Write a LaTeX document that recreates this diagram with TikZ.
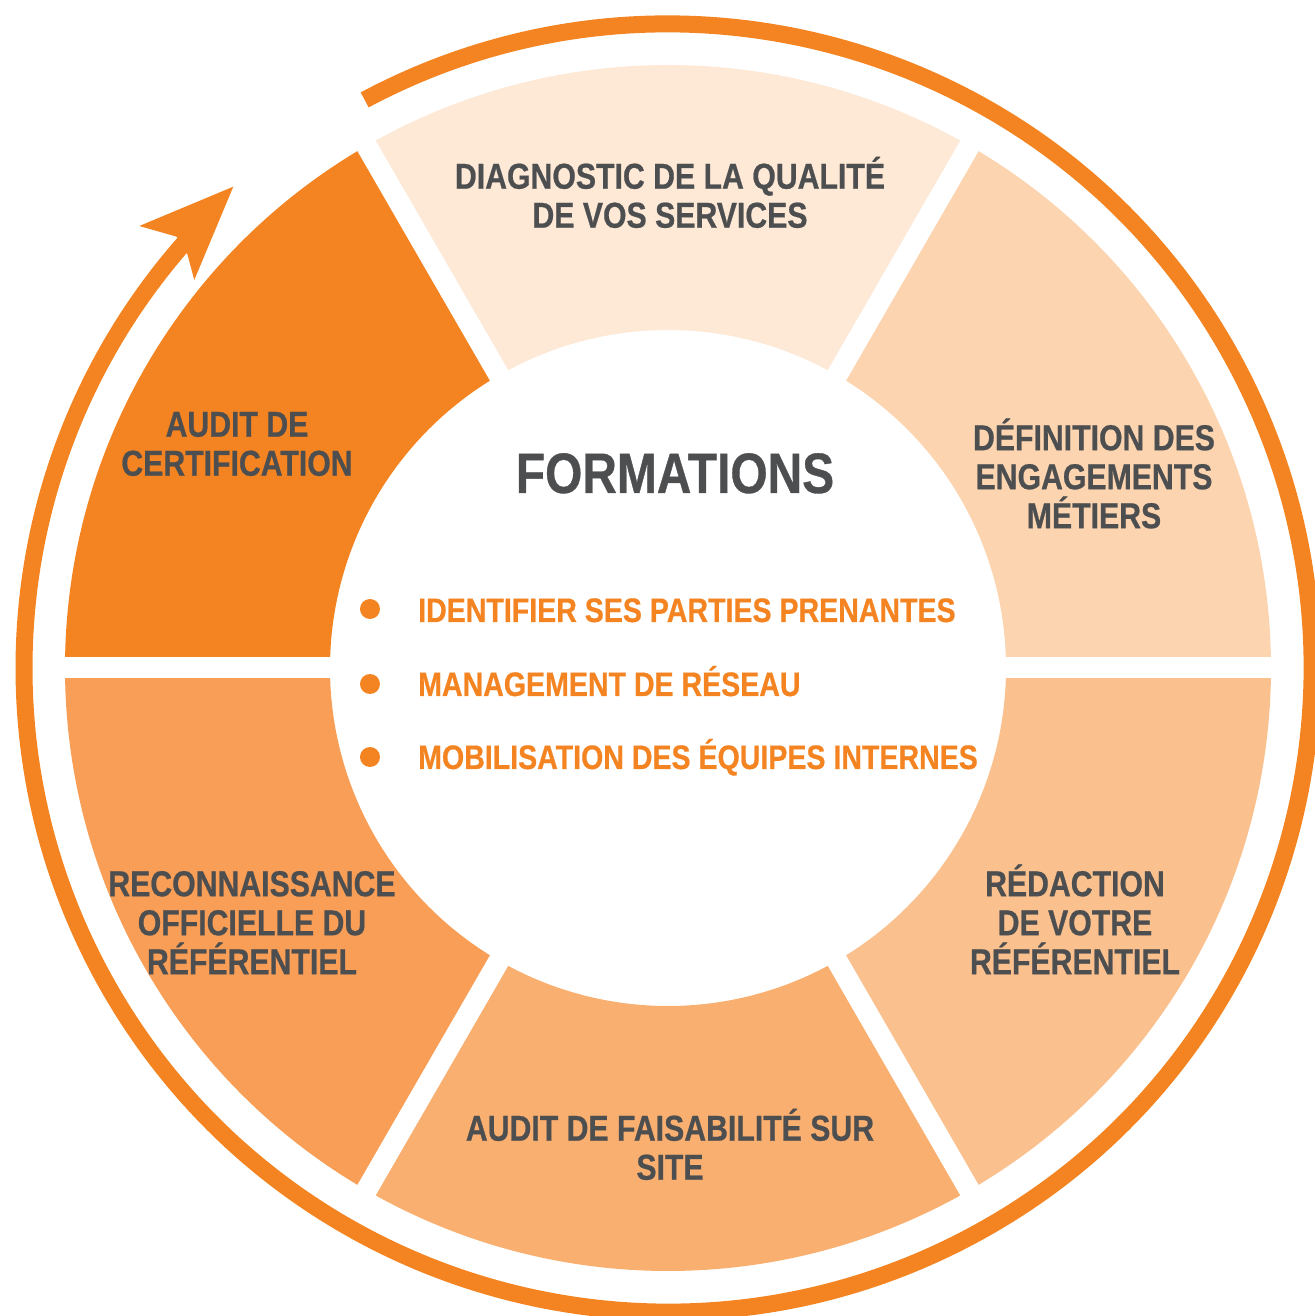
\documentclass[tikz,border=0pt]{standalone}
\usepackage{fontspec}
\setmainfont{Liberation Sans}[FakeStretch=0.84, BoldFeatures={FakeBold=0.6}]
\definecolor{ringc}{HTML}{F48422}
\definecolor{secA}{HTML}{FDE9D6}
\definecolor{secB}{HTML}{FCD5B0}
\definecolor{secC}{HTML}{FAC18F}
\definecolor{secD}{HTML}{F9AF70}
\definecolor{secE}{HTML}{F89E56}
\definecolor{secF}{HTML}{F48422}
\definecolor{txtc}{HTML}{4D4E50}
\newcommand{\ringsector}[3]{\fill[#3] (#1:338pt) arc[start angle=#1,end angle=#2,radius=338pt] -- (#2:603pt) arc[start angle=#2,end angle=#1,radius=603pt] -- cycle;}
\newcommand{\tstrut}{\rule{0pt}{36pt}}
\newcommand{\bstrut}{\rule[-3.6pt]{0pt}{3.6pt}}
\tikzset{
  seclabel/.style={font=\fontsize{36}{39}\selectfont\bfseries, text=txtc, align=center, inner sep=0pt},
  itemlabel/.style={font=\fontsize{34}{38}\selectfont\bfseries, text=ringc, inner sep=0pt, anchor=base west},
  bulletdot/.style={circle, fill=ringc, minimum size=20pt, inner sep=0pt},
  gapline/.style={white, line width=21pt}
}
\begin{document}
\begin{tikzpicture}[x=1pt,y=1pt]
\useasboundingbox (-668,-648) rectangle (646,668);
% sectors
\ringsector{60}{120}{secA}
\ringsector{0}{60}{secB}
\ringsector{-60}{0}{secC}
\ringsector{-120}{-60}{secD}
\ringsector{-180}{-120}{secE}
\ringsector{120}{180}{secF}
% gaps
\foreach \a in {0,60,...,300} \draw[gapline] (0,0) -- (\a:625pt);
% outer ring with arrow
\draw[ringc, line width=17pt] (118.1:644pt) arc[start angle=118.1, end angle=-221.3, radius=644pt];
\fill[ringc] (-434.7,481.3) -- (-528.7,442) -- (-491.3,431.3) -- (-481.3,416.3) -- (-473.7,388) -- cycle;
% sector labels
\node[seclabel] (diag) at (2,476) {\tstrut DIAGNOSTIC DE LA QUALITÉ\\DE VOS SERVICES\bstrut};
\node[seclabel] (defi) at (426,195) {\tstrut DÉFINITION DES\\ENGAGEMENTS\\MÉTIERS\bstrut};
\node[seclabel] (reda) at (407,-251) {\tstrut RÉDACTION\\DE VOTRE\\RÉFÉRENTIEL\bstrut};
\node[seclabel] (fais) at (2,-476) {\tstrut AUDIT DE FAISABILITÉ SUR\\SITE\bstrut};
\node[seclabel] (reco) at (-416,-251) {\tstrut RECONNAISSANCE\\OFFICIELLE DU\\RÉFÉRENTIEL\bstrut};
\node[seclabel] (cert) at (-431,228) {\tstrut AUDIT DE\\CERTIFICATION\bstrut};
% centre
\node[font=\fontsize{57}{60}\selectfont\bfseries, text=txtc, inner sep=0pt, anchor=base] (form) at (7,175) {FORMATIONS};
\node[bulletdot] (b1) at (-298,59) {};
\node[bulletdot] (b2) at (-298,-16) {};
\node[bulletdot] (b3) at (-298,-89) {};
\node[itemlabel] (i1) at (-250,46) {IDENTIFIER SES PARTIES PRENANTES};
\node[itemlabel] (i2) at (-250,-28) {MANAGEMENT DE RÉSEAU};
\node[itemlabel] (i3) at (-250,-101) {MOBILISATION DES ÉQUIPES INTERNES};
\end{tikzpicture}
\end{document}
